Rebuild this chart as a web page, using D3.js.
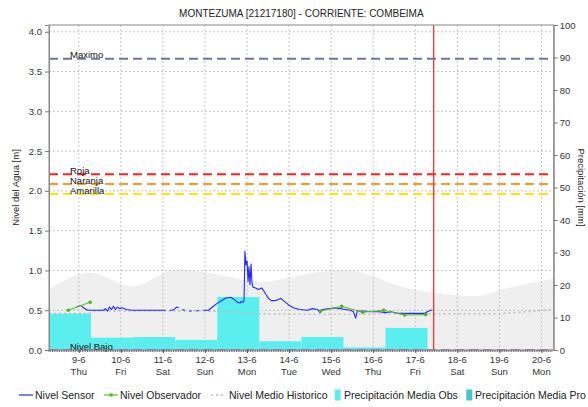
<!DOCTYPE html>
<html>
<head>
<meta charset="utf-8">
<script src="https://cdn.jsdelivr.net/npm/d3@7/dist/d3.min.js"></script>
<style>
  body { margin: 0; background: #fff; }
  svg { display: block; font-family: "Liberation Sans", Arial, sans-serif; }
</style>
</head>
<body>
<svg id="chart" width="588" height="407"></svg>
<script>
// ---- data -------------------------------------------------------------
const titleText = "MONTEZUMA [21217180] - CORRIENTE: COMBEIMA";
const leftAxisTitle = "Nivel del Agua [m]";
const rightAxisTitle = "Precipitación [mm]";

// hours are counted from 9 June 00:00
const baseDate = new Date(2016, 5, 9, 0, 0);
const viewStartHour = -17;
const viewEndHour = 271;
const nowHour = 202.5;

const leftTicks = [0.0, 0.5, 1.0, 1.5, 2.0, 2.5, 3.0, 3.5, 4.0];
const rightTicks = [0, 10, 20, 30, 40, 50, 60, 70, 80, 90, 100];

// alert thresholds (m)
const thresholdNames  = ["Maximo", "Roja", "Naranja", "Amarilla", "Nivel Bajo"];
const thresholdLevels = [3.66, 2.21, 2.085, 1.96, 0.0];

// daily observed precipitation (mm), each period starts 07:00 and lasts 24 h
const precipStartHours = [-17, 7, 31, 55, 79, 103, 127, 151, 175];
const precipObs        = [11.2, 3.8, 4.0, 3.1, 16.3, 2.7, 4.0, 0.8, 6.8];

// historical envelope (upper bound of the shaded band, m)
const bandHours = [-17, 6.1, 30.6, 55.7, 71.7, 90, 103.7, 125.9, 144.8, 151.6, 166.5, 181.8, 198.9, 214.3, 225.8, 242.9, 271];
const bandUpper = [0.76, 0.97, 0.80, 1.015, 0.98, 0.90, 0.855, 0.94, 1.00, 1.01, 0.94, 0.81, 0.73, 0.69, 0.675, 0.77, 0.90];

// historical mean level (m)
const meanHours = [-17, 5, 9, 60, 85, 104, 130, 160, 200, 235, 255, 271];
const meanLevel = [0.46, 0.46, 0.49, 0.49, 0.485, 0.455, 0.45, 0.45, 0.455, 0.455, 0.48, 0.51];

// sensor level (m); null marks missing readings
const sensorHours = [-1.3, -0.2, 1.4, 2.7, 5.0, 9.0, 11.8, 14.1, 15.2, 16.4, 17.5, 18.7, 19.8, 20.9, 22.1, 23.2, 24.9, 27.2, 30.6, 37.5,
  46.0, 48.0, 49.5, 51.0, 52.0, 53.5, 55.0, 55.7, 57.0, 58.0, 59.0, 60.5, 62.0, 63.0, 64.5, 66.0, 67.0, 68.5, 70.0, 71.0, 72.5, 74.0,
  76.3, 78.6, 81.4, 83.7, 85.4, 87.1, 88.9, 90.6, 92.0, 92.8, 93.7, 94.3, 94.8, 95.4, 96.0, 96.6, 97.1, 97.7, 98.3, 98.8, 99.4,
  100.8, 102.5, 104.3, 105.4, 106.5, 108.2, 109.9, 111.6, 113.4, 115.1, 116.8, 118.5, 120.2, 122.5, 125.9, 130.5, 133.3, 136.2,
  137.7, 139.0, 143.0, 146.5, 149.3, 152.2, 155.0, 156.7, 158.0, 158.9, 162.3, 166.9, 171.5, 174.9, 178.3, 181.8, 185.8, 189.8,
  194.3, 197.2, 198.9, 200.6, 201.8];
const sensorLevel = [0.54, 0.55, 0.56, 0.53, 0.50, 0.50, 0.50, 0.50, 0.52, 0.49, 0.54, 0.51, 0.55, 0.51, 0.54, 0.52, 0.53, 0.51, 0.50, 0.50,
  0.50, 0.50, 0.50, null, 0.50, 0.50, 0.52, 0.54, 0.53, null, 0.51, 0.50, null, 0.49, 0.49, null, 0.49, 0.50, null, 0.50, 0.50, 0.50,
  0.54, 0.58, 0.62, 0.65, 0.66, 0.66, 0.63, 0.60, 0.59, 0.61, 0.60, 0.62, 1.24, 1.07, 1.12, 0.86, 1.05, 0.82, 1.08, 0.85, 0.79,
  0.78, 0.76, 0.78, 0.75, 0.71, 0.65, 0.62, 0.62, 0.63, 0.65, 0.62, 0.59, 0.56, 0.53, 0.51, 0.50, 0.52, 0.51,
  0.47, 0.51, 0.52, 0.53, 0.52, 0.51, 0.50, 0.48, 0.40, 0.49, 0.49, 0.48, 0.48, 0.47, 0.48, 0.46, 0.46, 0.46,
  0.46, 0.46, 0.48, 0.50, 0.50];

// observer readings (m)
const observerSegments = [
  { hours: [-6, 6.5], level: [0.50, 0.60] },
  { hours: [138, 150, 162, 174, 186, 198], level: [0.49, 0.55, 0.475, 0.50, 0.44, 0.445] }
];

// ---- layout -----------------------------------------------------------
const svg = d3.select("#chart");
const plot = { left: 49, right: 553.7, top: 25, bottom: 350 };
const hourToDate = h => new Date(baseDate.getTime() + h * 3600000);

const x = d3.scaleTime()
  .domain([hourToDate(viewStartHour), hourToDate(viewEndHour)])
  .range([plot.left, plot.right]);
const yL = d3.scaleLinear().domain([0, 4.085]).range([plot.bottom, plot.top]);
const yR = d3.scaleLinear().domain([0, 100]).range([plot.bottom, plot.top]);

svg.append("defs").append("clipPath").attr("id", "plotclip")
  .append("rect").attr("x", plot.left).attr("y", plot.top)
  .attr("width", plot.right - plot.left).attr("height", plot.bottom - plot.top);

// title
svg.append("text").attr("x", (plot.left + plot.right) / 2).attr("y", 17)
  .attr("text-anchor", "middle").attr("font-size", 10).attr("fill", "#222")
  .text(titleText);

const g = svg.append("g").attr("clip-path", "url(#plotclip)");

// shaded historical band
const band = bandHours.map((h, i) => ({ t: hourToDate(h), v: bandUpper[i] }));
g.append("path").datum(band)
  .attr("fill", "#efefef")
  .attr("d", d3.area().x(d => x(d.t)).y0(yL(0)).y1(d => yL(d.v)).curve(d3.curveMonotoneX));

// grid
const dayTicks = d3.timeDay.range(hourToDate(0), hourToDate(viewEndHour));
g.selectAll(".vgrid").data(dayTicks).join("line")
  .attr("x1", d => x(d)).attr("x2", d => x(d))
  .attr("y1", plot.top).attr("y2", plot.bottom)
  .attr("stroke", "#c4c4c4").attr("stroke-dasharray", "2,2");
g.selectAll(".hgrid").data(leftTicks).join("line")
  .attr("x1", plot.left).attr("x2", plot.right)
  .attr("y1", d => yL(d)).attr("y2", d => yL(d))
  .attr("stroke", "#c4c4c4").attr("stroke-dasharray", "2,2");

// observed precipitation bars
const bars = precipStartHours.map((h, i) => ({ t0: hourToDate(h), t1: hourToDate(h + 24), v: precipObs[i] }));
g.selectAll(".bar").data(bars).join("rect")
  .attr("x", d => x(d.t0)).attr("width", d => x(d.t1) - x(d.t0))
  .attr("y", d => yR(d.v)).attr("height", d => yR(0) - yR(d.v))
  .attr("fill", "#5aeeee");

// threshold lines
const thresholdColors = ["#6b77a0", "#ff1f1f", "#ff9a1a", "#f4ec00", "#cc5fcc"];
thresholdLevels.forEach((lv, i) => {
  g.append("line")
    .attr("x1", plot.left).attr("x2", plot.right)
    .attr("y1", yL(lv)).attr("y2", yL(lv))
    .attr("stroke", thresholdColors[i]).attr("stroke-width", 2)
    .attr("stroke-dasharray", "9,5");
  svg.append("text").attr("x", 70).attr("y", yL(lv) - 0.5)
    .attr("font-size", 9.5).attr("fill", "#111")
    .text(thresholdNames[i]);
});

// historical mean
const mean = meanHours.map((h, i) => ({ t: hourToDate(h), v: meanLevel[i] }));
g.append("path").datum(mean)
  .attr("fill", "none").attr("stroke", "#bdbdbd").attr("stroke-width", 1.5)
  .attr("stroke-dasharray", "2,3")
  .attr("d", d3.line().x(d => x(d.t)).y(d => yL(d.v)).curve(d3.curveMonotoneX));

// sensor level
const sensor = sensorHours.map((h, i) => ({ t: hourToDate(h), v: sensorLevel[i] }));
g.append("path").datum(sensor)
  .attr("fill", "none").attr("stroke", "#2626ff").attr("stroke-width", 1.1)
  .attr("stroke-linejoin", "round")
  .attr("d", d3.line().defined(d => d.v !== null).x(d => x(d.t)).y(d => yL(d.v)));

// observer readings
const obsLine = d3.line().x(d => x(d.t)).y(d => yL(d.v));
observerSegments.forEach(seg => {
  const pts = seg.hours.map((h, i) => ({ t: hourToDate(h), v: seg.level[i] }));
  g.append("path").datum(pts)
    .attr("fill", "none").attr("stroke", "#5cbf2a").attr("stroke-width", 1.1)
    .attr("d", obsLine);
  g.selectAll(null).data(pts).join("circle")
    .attr("cx", d => x(d.t)).attr("cy", d => yL(d.v)).attr("r", 1.8)
    .attr("fill", "#4fb51f");
});

// current time marker
g.append("line")
  .attr("x1", x(hourToDate(nowHour))).attr("x2", x(hourToDate(nowHour)))
  .attr("y1", plot.top).attr("y2", plot.bottom)
  .attr("stroke", "#ff3030").attr("stroke-width", 1.3);

// plot outline
svg.append("rect").attr("x", plot.left).attr("y", plot.top)
  .attr("width", plot.right - plot.left).attr("height", plot.bottom - plot.top)
  .attr("fill", "none").attr("stroke", "#888");

// axes
const axL = svg.append("g").attr("transform", `translate(${plot.left},0)`)
  .call(d3.axisLeft(yL).tickValues(leftTicks).tickFormat(d3.format(".1f")).tickSize(4).tickPadding(3));
const axR = svg.append("g").attr("transform", `translate(${plot.right},0)`)
  .call(d3.axisRight(yR).tickValues(rightTicks).tickSize(4).tickPadding(2));
[axL, axR].forEach(a => {
  a.select(".domain").attr("stroke", "#888");
  a.selectAll(".tick line").attr("stroke", "#777");
  a.selectAll(".tick text").attr("font-size", 9.5).attr("fill", "#333")
    .attr("font-family", "Liberation Sans, Arial, sans-serif");
});

// time axis: hourly minor ticks and day labels
const hourTicks = d3.timeHour.range(hourToDate(viewStartHour), hourToDate(viewEndHour));
svg.append("g").selectAll("line").data(hourTicks).join("line")
  .attr("x1", d => x(d)).attr("x2", d => x(d))
  .attr("y1", plot.bottom).attr("y2", plot.bottom + 2)
  .attr("stroke", "#555").attr("stroke-width", 0.8);
const axB = svg.append("g").attr("transform", `translate(0,${plot.bottom})`)
  .call(d3.axisBottom(x).tickValues(dayTicks).tickSize(3).tickFormat(""));
axB.select(".domain").remove();
axB.selectAll(".tick line").attr("stroke", "#555");
const fmtDay = d3.timeFormat("%-d-%-m");
const fmtWeek = d3.timeFormat("%a");
const dayLabels = svg.append("g").selectAll("text").data(dayTicks).join("text")
  .attr("x", d => x(d)).attr("text-anchor", "middle")
  .attr("font-size", 9.5).attr("fill", "#333");
dayLabels.append("tspan").attr("x", d => x(d)).attr("y", 362.5).text(d => fmtDay(d));
dayLabels.append("tspan").attr("x", d => x(d)).attr("y", 374.5).text(d => fmtWeek(d));

// axis titles
svg.append("text")
  .attr("transform", `translate(19,${(plot.top + plot.bottom) / 2}) rotate(-90)`)
  .attr("text-anchor", "middle").attr("font-size", 9.5).attr("fill", "#222")
  .text(leftAxisTitle);
svg.append("text")
  .attr("transform", `translate(578,${(plot.top + plot.bottom) / 2}) rotate(90)`)
  .attr("text-anchor", "middle").attr("font-size", 9.5).attr("fill", "#222")
  .text(rightAxisTitle);

// legend
const legendY = 395;
const legend = svg.append("g").attr("font-size", 10.5).attr("fill", "#222");
legend.append("line").attr("x1", 19).attr("x2", 33).attr("y1", legendY).attr("y2", legendY)
  .attr("stroke", "#2626ff").attr("stroke-width", 1.2);
legend.append("text").attr("x", 35).attr("y", legendY + 3.8).text("Nivel Sensor");
legend.append("line").attr("x1", 104).attr("x2", 118).attr("y1", legendY).attr("y2", legendY)
  .attr("stroke", "#5cbf2a").attr("stroke-width", 1.2);
legend.append("rect").attr("x", 109.5).attr("y", legendY - 1.5).attr("width", 3).attr("height", 3).attr("fill", "#4fb51f");
legend.append("text").attr("x", 120).attr("y", legendY + 3.8).text("Nivel Observador");
legend.append("line").attr("x1", 211).attr("x2", 226).attr("y1", legendY).attr("y2", legendY)
  .attr("stroke", "#bdbdbd").attr("stroke-width", 1.5).attr("stroke-dasharray", "2,3");
legend.append("text").attr("x", 229).attr("y", legendY + 3.8).text("Nivel Medio Historico");
legend.append("rect").attr("x", 334.7).attr("y", legendY - 5.5).attr("width", 6).attr("height", 11).attr("fill", "#5aeeee");
legend.append("text").attr("x", 344).attr("y", legendY + 3.8).text("Precipitación Media Obs");
legend.append("rect").attr("x", 466.3).attr("y", legendY - 5.5).attr("width", 6).attr("height", 11).attr("fill", "#43c8c8");
legend.append("text").attr("x", 475).attr("y", legendY + 3.8).text("Precipitación Media Pro");
</script>
</body>
</html>
